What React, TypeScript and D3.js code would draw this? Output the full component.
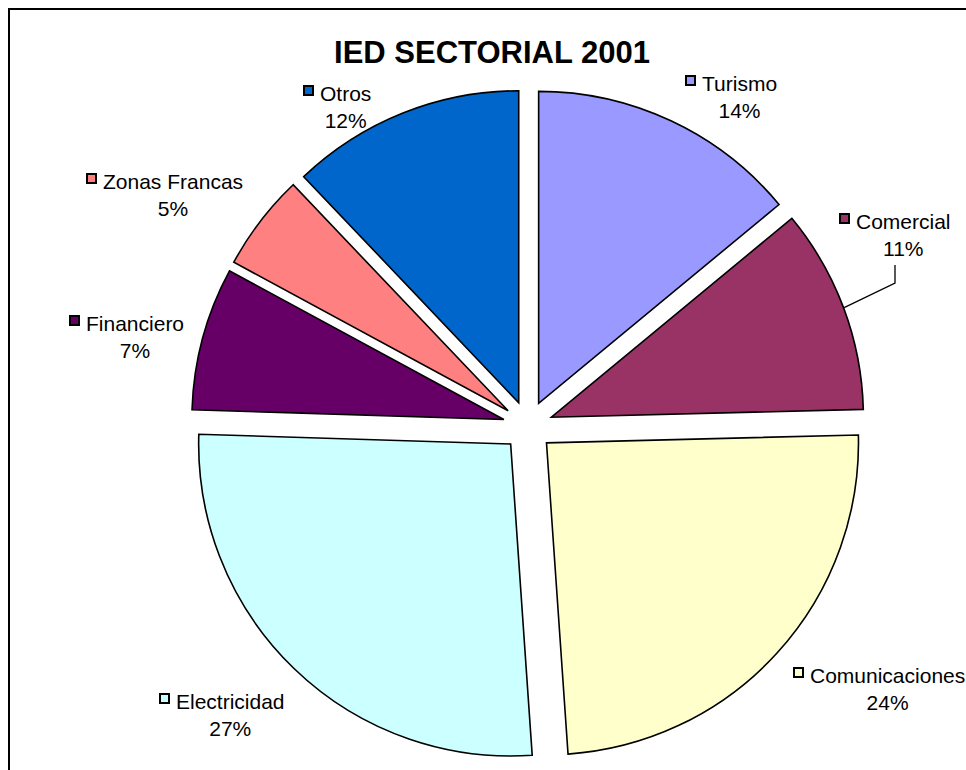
import React from "react";
import * as d3 from "d3";

const title = "IED SECTORIAL 2001";
const categories = ["Turismo", "Comercial", "Comunicaciones", "Electricidad", "Financiero", "Zonas Francas", "Otros"];
const values = [14.0, 10.6, 24.3, 26.6, 7.4, 5.0, 12.1];
const colors = ["#9999FF", "#993366", "#FFFFCC", "#CCFFFF", "#660066", "#FF8080", "#0066CC"];

// layout (text start x, first-line baseline y) for each data label
const labelX = [702, 856, 810, 176, 86, 103, 320];
const labelY = [91, 229, 683, 709, 331, 189, 101];

const W = 966;
const H = 770;
const CX = 528;
const CY = 426;
const R = 312;
const EXPLODE = 25;
const FONT = "'Liberation Sans', Arial, sans-serif";
const FS = 21;

function textWidth(s: string, font: string) {
  const c = document.createElement("canvas");
  const ctx = c.getContext("2d");
  if (!ctx) return s.length * FS * 0.55;
  ctx.font = font;
  return ctx.measureText(s).width;
}

export default function App() {
  const total = d3.sum(values);
  const pie = d3.pie<number>().sort(null).startAngle(0).endAngle(2 * Math.PI);
  const arcs = pie(values);
  const arc = d3.arc<d3.PieArcDatum<number>>().innerRadius(0).outerRadius(R);

  const slices = arcs.map((a, i) => {
    const mid = (a.startAngle + a.endAngle) / 2;
    const dx = Math.sin(mid) * EXPLODE;
    const dy = -Math.cos(mid) * EXPLODE;
    return { a, i, mid, dx, dy };
  });

  // leader line for Comercial
  const com = slices[1];
  const leadEnd = [CX + com.dx + Math.sin(com.mid) * R, CY + com.dy - Math.cos(com.mid) * R];
  const leadPath = d3.line()([[895, 265], [895, 283], [leadEnd[0], leadEnd[1]]]);

  return (
    <svg
      width={W}
      height={H}
      style={{ position: "absolute", left: 0, top: 0, background: "#fff" }}
      fontFamily={FONT}
    >
      <rect x={0} y={0} width={W} height={H} fill="#fff" />
      <rect x={9} y={9} width={1000} height={800} fill="none" stroke="#000" strokeWidth={2} />
      <text x={492} y={63} textAnchor="middle" fontSize={31} fontWeight="bold" fill="#000">
        {title}
      </text>
      <g transform={`translate(${CX},${CY})`}>
        {slices.map((s) => (
          <path
            key={categories[s.i]}
            d={arc(s.a) || ""}
            transform={`translate(${s.dx},${s.dy})`}
            fill={colors[s.i]}
            stroke="#000"
            strokeWidth={1.6}
            strokeLinejoin="miter"
          />
        ))}
      </g>
      <path d={leadPath || ""} fill="none" stroke="#000" strokeWidth={1.3} />
      {categories.map((c, i) => {
        const tw = textWidth(c, `${FS}px ${FONT}`);
        const tx = labelX[i];
        const ty = labelY[i];
        const pct = Math.round((values[i] / total) * 100) + "%";
        return (
          <g key={c}>
            <rect x={tx - 16} y={ty - 15} width={9} height={9} fill={colors[i]} stroke="#000" strokeWidth={2} />
            <text x={tx} y={ty} fontSize={FS} fill="#000">
              {c}
            </text>
            <text x={tx + tw / 2} y={ty + 27} fontSize={FS} fill="#000" textAnchor="middle">
              {pct}
            </text>
          </g>
        );
      })}
    </svg>
  );
}
